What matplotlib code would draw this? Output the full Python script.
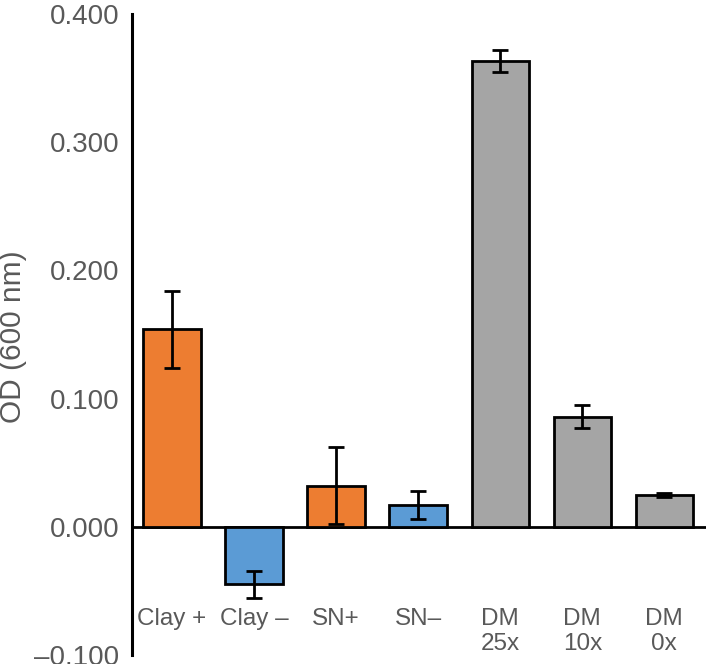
import numpy as np
import matplotlib
matplotlib.use('Agg')
import matplotlib.pyplot as plt

plt.rcParams['font.family'] = ['Liberation Sans', 'DejaVu Sans']

# data
labels = ['Clay +', 'Clay \u2013', 'SN+', 'SN\u2013', 'DM\n25x', 'DM\n10x', 'DM\n0x']
od = [0.154, -0.045, 0.032, 0.017, 0.363, 0.086, 0.025]
err = [0.030, 0.0105, 0.030, 0.011, 0.0085, 0.009, 0.0015]
colors = ['#ED7D31', '#5B9BD5', '#ED7D31', '#5B9BD5', '#A5A5A5', '#A5A5A5', '#A5A5A5']
yticks = [-0.1, 0.0, 0.1, 0.2, 0.3, 0.4]

grey = '#595959'

fig = plt.figure(figsize=(7.09, 6.64), dpi=100)
ax = fig.add_axes([0.186, 0.0136, 0.81, 0.9654])

x = np.arange(len(od))
ax.axhline(0, color='black', lw=2, zorder=1)
ax.bar(x, od, width=0.7, color=colors, edgecolor='black', linewidth=2, zorder=2)
ax.errorbar(x, od, yerr=err, fmt='none', ecolor='black', elinewidth=2,
            capsize=5.8, capthick=2, zorder=3)

ax.set_xlim(-0.49, 6.51)
ax.set_ylim(-0.1, 0.4)
ax.set_yticks(yticks)
ax.set_yticklabels([f'{v:.3f}'.replace('-', '\u2013') for v in yticks],
                   fontsize=20, color=grey)
ax.tick_params(axis='y', length=0, pad=9)
ax.set_xticks([])

for xi, lab in zip(x, labels):
    ax.text(xi, -0.0635, lab, ha='center', va='top', fontsize=17.5,
            color=grey, linespacing=1.15)

for s in ['top', 'right', 'bottom']:
    ax.spines[s].set_visible(False)
ax.spines['left'].set_linewidth(2.2)

fig.text(0.019, 0.493, 'OD (600 nm)', rotation=90, ha='center', va='center',
         fontsize=21.5, color=grey)

fig.savefig('out.png', dpi=100)
